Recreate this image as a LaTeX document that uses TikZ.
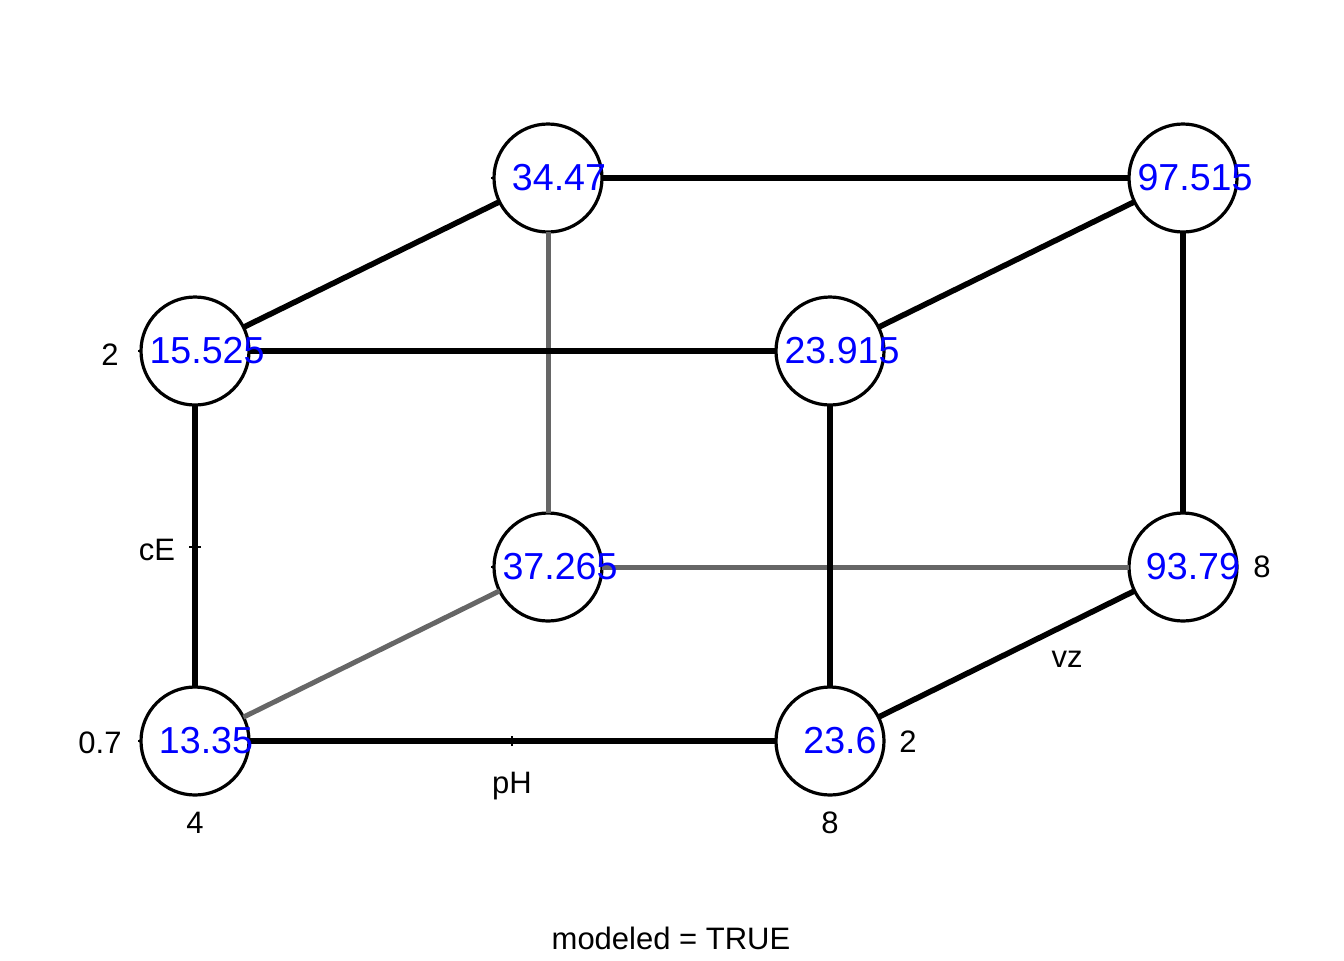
\documentclass[tikz,border=0pt]{standalone}
\usepackage{fontspec}
\setmainfont{Liberation Sans}
\definecolor{edgegray}{HTML}{666666}
\begin{document}
\begin{tikzpicture}[x=0.5pt,y=-0.5pt,
  vtx/.style={circle,draw=black,line width=1.6pt,fill=white,minimum size=54pt,inner sep=0pt,outer sep=0pt},
  val/.style={text=blue,font=\fontsize{18.8pt}{20pt}\selectfont,inner sep=0pt},
  lab/.style={font=\fontsize{15.5pt}{17pt}\selectfont,inner sep=0pt,anchor=base},
  blk/.style={line width=2.8pt,black},
  gry/.style={line width=2.5pt,edgegray},
  tickmark/.style={line width=0.6pt,black}
]
\useasboundingbox (0,0) rectangle (1344,960);
% vertices
\node[vtx] (A) at (548,178) {};
\node[vtx] (B) at (1183,178) {};
\node[vtx] (C) at (195,351) {};
\node[vtx] (D) at (830,351) {};
\node[vtx] (E) at (548,567) {};
\node[vtx] (F) at (1183,567) {};
\node[vtx] (G) at (195,741) {};
\node[vtx] (H) at (830,741) {};
% gray (hidden) edges
\draw[gry] (A) -- (E);
\draw[gry] (E) -- (F);
\draw[gry] (G) -- (E);
% black edges
\draw[blk] (A) -- (B);
\draw[blk] (C) -- (A);
\draw[blk] (C) -- (D);
\draw[blk] (D) -- (B);
\draw[blk] (B) -- (F);
\draw[blk] (C) -- (G);
\draw[blk] (D) -- (H);
\draw[blk] (G) -- (H);
\draw[blk] (H) -- (F);
% ticks
\coordinate (tcE) at (195,547);
\coordinate (tpH) at (512,741);
\draw[tickmark] ([xshift=-3pt]tcE) -- ([xshift=3pt]tcE);
\draw[tickmark] ([yshift=-2.5pt]tpH) -- ([yshift=2.5pt]tpH);
\draw[tickmark] ([xshift=-1.5pt]C.west) -- (C.west);
\draw[tickmark] ([xshift=-1.5pt]G.west) -- (G.west);
\draw[tickmark] ([xshift=-1.5pt]A.west) -- (A.west);
\draw[tickmark] ([xshift=-1.5pt]E.west) -- (E.west);
% values
\node[val] (tA) at (559,178) {34.47};
\node[val] (tB) at (1195,178) {97.515};
\node[val] (tC) at (207,351) {15.525};
\node[val] (tD) at (842,351) {23.915};
\node[val] (tE) at (560,567) {37.265};
\node[val] (tF) at (1193,567) {93.79};
\node[val] (tG) at (206,741) {13.35};
\node[val] (tH) at (840,741) {23.6};
% axis labels
\node[lab] (l1) at (110,365) {2};
\node[lab] (l2) at (100,753) {0.7};
\node[lab] (l3) at (195,833) {4};
\node[lab] (l4) at (830,833) {8};
\node[lab] (l5) at (908,752) {2};
\node[lab] (l6) at (1262,577) {8};
\node[lab] (lcE) at (157,560) {cE};
\node[lab] (lpH) at (512,793) {pH};
\node[lab] (lvz) at (1067,667) {vz};
\node[lab] (title) at (671,949) {modeled = TRUE};
\end{tikzpicture}
\end{document}
